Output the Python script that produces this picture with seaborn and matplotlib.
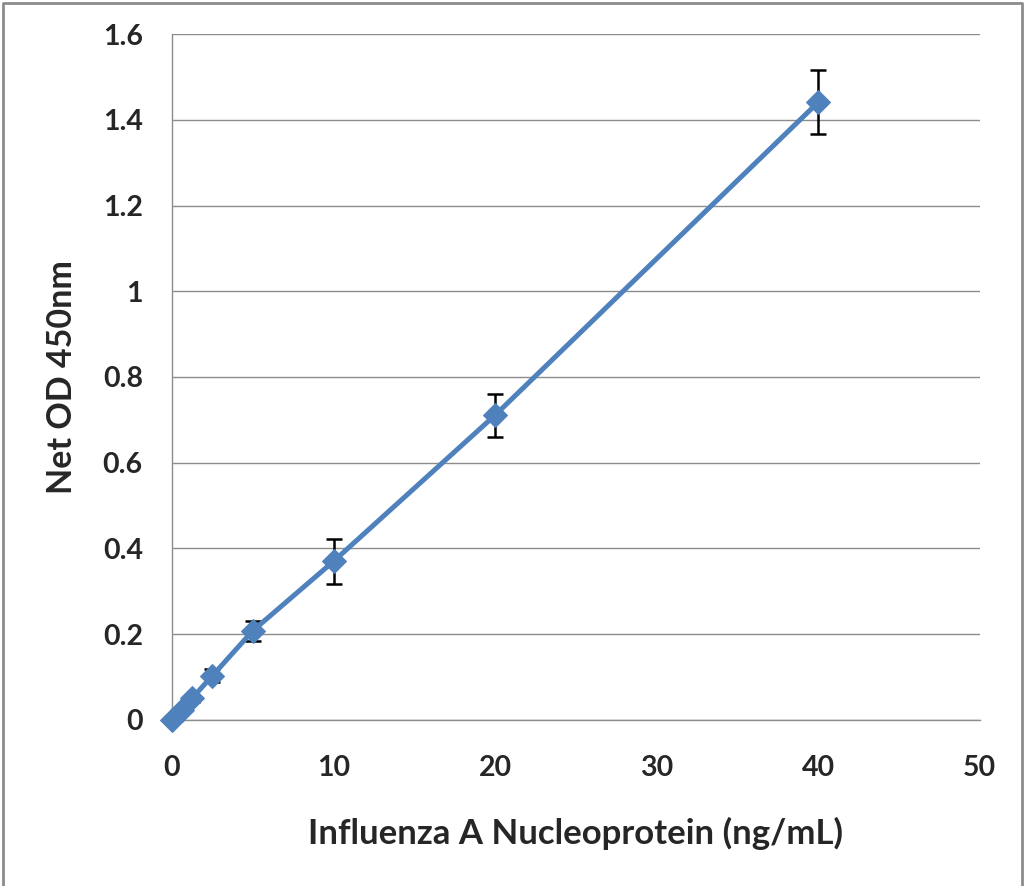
#%% Preparations
import pandas as pd
import matplotlib.pyplot as plt
import seaborn as sns
from matplotlib.lines import Line2D

#%% data
conc = [0, 0.625, 1.25, 2.5, 5, 10, 20, 40]
od = [0.0, 0.023, 0.051, 0.103, 0.208, 0.370, 0.711, 1.441]
err = [0.002, 0.004, 0.008, 0.015, 0.024, 0.052, 0.050, 0.074]

df = pd.DataFrame({"conc": conc, "od": od, "err": err})

blue = "#4F81BD"
grid_grey = "#8C8C8C"

#%% Plot
sns.set_style("white")
plt.rcParams['font.family'] = ['Lato', 'DejaVu Sans']

fig = plt.figure(figsize=(10.26, 8.86), dpi=100)
ax = fig.add_axes([0.1676, 0.1874, 0.955 - 0.1676, 0.9616 - 0.1874])

ax.errorbar(df["conc"], df["od"], yerr=df["err"], fmt="none",
            ecolor="black", elinewidth=1.8, capsize=6, capthick=1.8, zorder=2)
sns.lineplot(data=df, x="conc", y="od", ax=ax, color=blue, linewidth=3.6,
             marker="D", markersize=12.5, markeredgecolor=blue, zorder=3,
             clip_on=False)

ax.set_xlim(0, 50)
ax.set_ylim(0, 1.6)
ax.set_xticks(range(0, 51, 10))
ax.set_yticks([0, 0.2, 0.4, 0.6, 0.8, 1.0, 1.2, 1.4, 1.6])
ax.set_yticklabels(["0", "0.2", "0.4", "0.6", "0.8", "1", "1.2", "1.4", "1.6"])

ax.grid(axis="y", color=grid_grey, linewidth=1)
ax.set_axisbelow(True)
for s in ["top", "right"]:
    ax.spines[s].set_visible(False)
for s in ["left", "bottom"]:
    ax.spines[s].set_color(grid_grey)
    ax.spines[s].set_linewidth(1)

ax.tick_params(axis="both", direction="out", length=7, width=1,
               color=grid_grey, labelsize=20.5)
ax.tick_params(axis="y", pad=14)
ax.tick_params(axis="x", pad=18)
for lab in ax.get_xticklabels() + ax.get_yticklabels():
    lab.set_fontweight("bold")

ax.set_xlabel("Influenza A Nucleoprotein (ng/mL)", fontsize=25,
              fontweight="bold", labelpad=26)
ax.set_ylabel("Net OD 450nm", fontsize=24.5, fontweight="bold", labelpad=18)

# outer chart border (left, top, right)
fig.add_artist(Line2D([0.003, 0.003, 0.996, 0.996], [0.0, 0.997, 0.997, 0.0],
                      transform=fig.transFigure, color=grid_grey, linewidth=2))

fig.savefig("out.png", dpi=100)
